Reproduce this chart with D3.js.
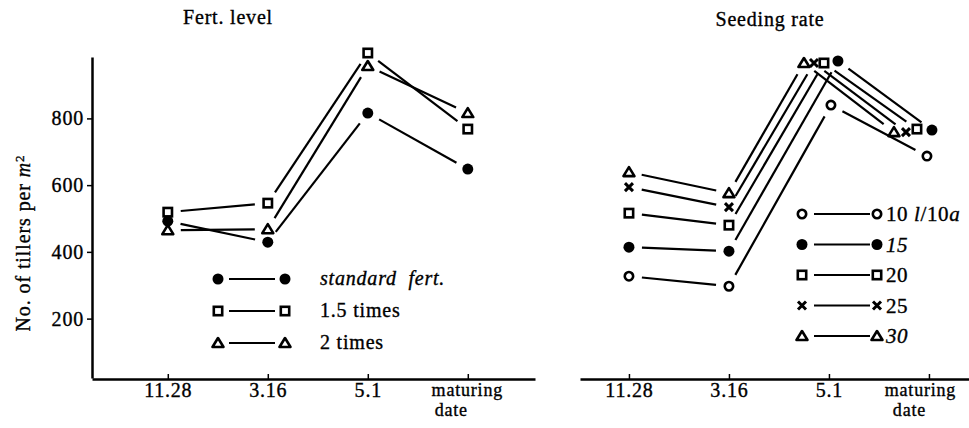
<!DOCTYPE html>
<html>
<head>
<meta charset="utf-8">
<script src="https://cdn.jsdelivr.net/npm/d3@7"></script>
<style>
  body { margin: 0; background: #fff; }
  svg { display: block; }
  text { font-family: 'Liberation Serif', 'Times New Roman', serif; fill: #000;
         stroke: #000; stroke-width: 0.35px; }
</style>
</head>
<body>
<svg id="chart"></svg>
<script>
// Data
const dates = ["11.28", "3.16", "5.1", "maturing date"];
const yTicks = [200, 400, 600, 800];

// Fert. level panel
const fertLabels = ["standard  fert.", "1.5 times", "2 times"];
const fertMarkers = ["dot", "square", "triangle"];
const fertStandard = [492, 429, 816, 648];
const fert15 = [519, 546, 996, 768];
const fert2 = [465, 468, 957, 816];

// Seeding rate panel
const seedLabels = ["10", "15", "20", "25", "30"];
const seedMarkers = ["circle", "dot", "square", "cross", "triangle"];
const seed10 = [327, 297, 840, 687];
const seed15 = [414, 402, 972, 765];
const seed20 = [516, 480, 966, 768];
const seed25 = [594, 534, 966, 759];
const seed30 = [639, 576, 966, 759];

// horizontal nudges (px) so the crowded right-panel markers don't sit on top of each other
const seedNudge = [[0, 0, 2, -2], [0, 0, 9, 3], [0, 0, -5, -12], [0, 0, -15, -23], [0, 0, -25, -35]];

const width = 969, height = 428;
const fs = "20px";

const svg = d3.select("#chart").attr("width", width).attr("height", height);

// scales
const y = d3.scaleLinear().domain([22, 984]).range([378, 57]);
const xLeft = d3.scalePoint().domain(dates).range([92, 535]).padding(0.715).align(0.53);
const xRight = d3.scalePoint().domain(dates).range([580, 969]).padding(0.445).align(0.55);

// titles
svg.append("text").attr("x", 228).attr("y", 24).attr("text-anchor", "middle")
  .style("font-size", fs).style("letter-spacing", "0.8px").text("Fert. level");
svg.append("text").attr("x", 770).attr("y", 26).attr("text-anchor", "middle")
  .style("font-size", fs).style("letter-spacing", "0.8px").text("Seeding rate");

// y axis (left panel only)
const yAxis = svg.append("g").attr("transform", "translate(92,0)")
  .call(d3.axisLeft(y).tickValues(yTicks).tickSizeInner(5).tickSizeOuter(0).tickPadding(3));
yAxis.select(".domain").attr("stroke-width", 2.5);
yAxis.selectAll(".tick line").attr("stroke-width", 1.5);
yAxis.selectAll(".tick text").style("font-size", fs).style("letter-spacing", "0.8px");

// y axis title
const yTitle = svg.append("text")
  .attr("transform", "translate(30,243) rotate(-90)")
  .attr("text-anchor", "middle")
  .style("font-size", fs).style("letter-spacing", "0.9px");
yTitle.append("tspan").text("No. of tillers per ");
yTitle.append("tspan").style("font-style", "italic").text("m");
yTitle.append("tspan").attr("dy", "-0.45em").style("font-size", "13px").text("2");

// x axes
function drawXAxis(scale, offMat, offDate) {
  const g = svg.append("g").attr("transform", "translate(0,379)")
    .call(d3.axisBottom(scale).tickSizeInner(-5).tickSizeOuter(0).tickPadding(4));
  g.select(".domain").attr("stroke-width", 2.5);
  g.selectAll(".tick line").attr("stroke-width", 1.5);
  g.selectAll(".tick text").style("font-size", fs).style("letter-spacing", "0.8px");
  g.selectAll(".tick text").filter((d) => d === "maturing date").each(function () {
    const t = d3.select(this).text("").style("font-size", "18px");
    t.append("tspan").attr("x", offMat).text("maturing");
    t.append("tspan").attr("x", offDate).attr("dy", "1.12em").text("date");
  });
}
drawXAxis(xLeft, -1, -17);
drawXAxis(xRight, -9, -20);

// marker drawing
function marker(g, type, cx, cy) {
  const s = g.append("g").attr("transform", `translate(${cx},${cy})`);
  if (type === "dot") {
    s.append("circle").attr("r", 5.5).attr("fill", "#000");
  } else if (type === "circle") {
    s.append("circle").attr("r", 4.2).attr("fill", "none").attr("stroke", "#000").attr("stroke-width", 2.6);
  } else if (type === "square") {
    s.append("rect").attr("x", -4.2).attr("y", -4.2).attr("width", 8.4).attr("height", 8.4)
      .attr("fill", "none").attr("stroke", "#000").attr("stroke-width", 2.6);
  } else if (type === "triangle") {
    s.append("path").attr("d", "M0,-5L5.5,4L-5.5,4Z")
      .attr("fill", "none").attr("stroke", "#000").attr("stroke-width", 2.6).attr("stroke-linejoin", "round");
  } else if (type === "cross") {
    s.append("path").attr("d", "M-4,-4L4,4M4,-4L-4,4")
      .attr("stroke", "#000").attr("stroke-width", 3);
  }
}

// line between two marker centres, trimmed so it stops short of both markers
function gapLine(g, x1, y1, x2, y2, trim) {
  const dx = x2 - x1, dy = y2 - y1, len = Math.hypot(dx, dy);
  const ux = dx / len, uy = dy / len;
  g.append("line")
    .attr("x1", x1 + ux * trim).attr("y1", y1 + uy * trim)
    .attr("x2", x2 - ux * trim).attr("y2", y2 - uy * trim)
    .attr("stroke", "#000").attr("stroke-width", 2.2);
}

function drawSeries(g, xScale, values, type, nudge) {
  const pts = values.map((v, i) => [xScale(dates[i]) + (nudge ? nudge[i] : 0), y(v)]);
  for (let i = 0; i < pts.length - 1; i++) {
    gapLine(g, pts[i][0], pts[i][1], pts[i + 1][0], pts[i + 1][1], 13);
  }
  pts.forEach((p) => marker(g, type, p[0], p[1]));
}

// left panel
const leftG = svg.append("g");
[fertStandard, fert15, fert2].forEach((vals, i) => drawSeries(leftG, xLeft, vals, fertMarkers[i]));

// right panel
const rightG = svg.append("g");
[seed10, seed15, seed20, seed25, seed30].forEach((vals, i) =>
  drawSeries(rightG, xRight, vals, seedMarkers[i], seedNudge[i]));

// left legend
const legL = svg.append("g");
fertLabels.forEach((lab, i) => {
  const ry = 279 + i * 32;
  marker(legL, fertMarkers[i], 218, ry);
  legL.append("line").attr("x1", 229).attr("x2", 275).attr("y1", ry).attr("y2", ry)
    .attr("stroke", "#000").attr("stroke-width", 1.8);
  marker(legL, fertMarkers[i], 285, ry);
  legL.append("text").attr("x", 320).attr("y", ry + 6)
    .style("font-size", fs).style("letter-spacing", "0.8px")
    .style("font-style", i === 0 ? "italic" : "normal")
    .style("white-space", "pre")
    .text(lab);
});

// right legend
const legR = svg.append("g");
seedLabels.forEach((lab, i) => {
  const ry = 214 + i * 30.5;
  marker(legR, seedMarkers[i], 802, ry);
  legR.append("line").attr("x1", 814).attr("x2", 870).attr("y1", ry).attr("y2", ry)
    .attr("stroke", "#000").attr("stroke-width", 1.8);
  marker(legR, seedMarkers[i], 877, ry);
  const t = legR.append("text").attr("x", 886).attr("y", ry + 7)
    .style("font-size", "21px").style("letter-spacing", "0.6px");
  if (i === 0) {
    t.append("tspan").text("10 ");
    t.append("tspan").style("font-style", "italic").text("l");
    t.append("tspan").text("/10");
    t.append("tspan").style("font-style", "italic").text("a");
  } else {
    t.style("font-style", lab === "15" || lab === "30" ? "italic" : "normal").text(lab);
  }
});
</script>
</body>
</html>
